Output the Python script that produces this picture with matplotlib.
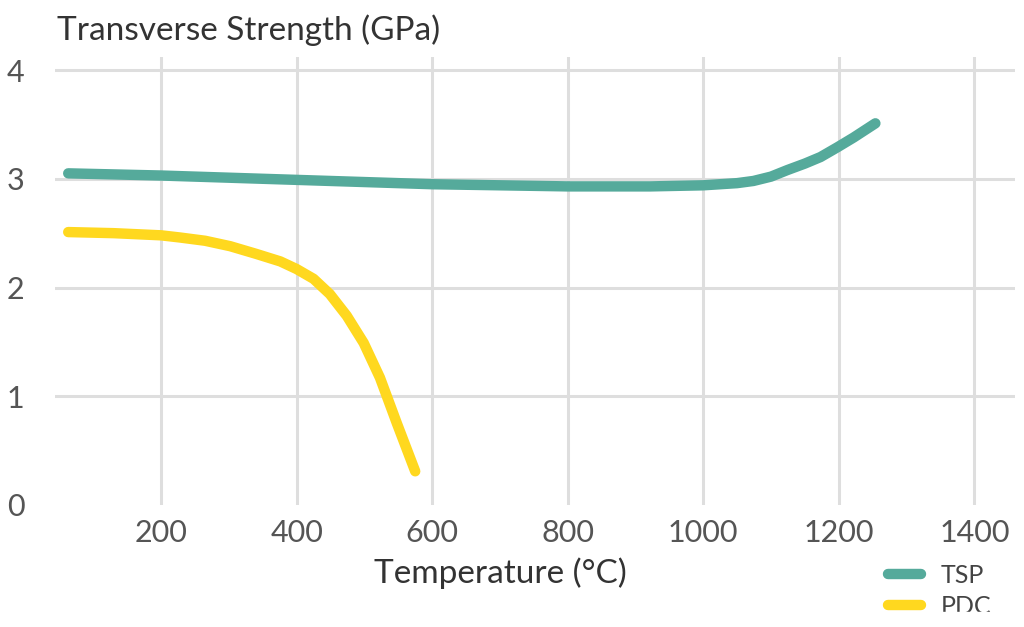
import matplotlib.pyplot as plt
from matplotlib.patches import Rectangle

# values
tsp_temp = [63, 200, 400, 600, 800, 922, 1000, 1025, 1050, 1074, 1100, 1124,
            1150, 1173, 1198, 1222, 1254]
tsp_gpa = [3.05, 3.03, 2.99, 2.95, 2.93, 2.93, 2.94, 2.95, 2.96, 2.98, 3.02, 3.08,
           3.14, 3.20, 3.29, 3.38, 3.51]

pdc_temp = [63, 130, 200, 228, 265, 302, 340, 376, 400, 425, 449, 474, 499,
            523, 548, 575]
pdc_gpa = [2.51, 2.50, 2.48, 2.46, 2.43, 2.38, 2.31, 2.24, 2.17, 2.08, 1.94,
           1.74, 1.49, 1.17, 0.75, 0.31]

x_ticks = [200, 400, 600, 800, 1000, 1200, 1400]
y_ticks = [0, 1, 2, 3, 4]

TEAL = "#55AA9B"
YELLOW = "#FFD81F"
GRID = "#DEDEDE"

plt.rcParams["font.family"] = ["Lato", "DejaVu Sans"]

fig = plt.figure(figsize=(10.24, 6.27), dpi=100)
ax = fig.add_axes([55 / 1024, 1 - 505 / 627, 960 / 1024, 448 / 627])

ax.plot(tsp_temp, tsp_gpa, color=TEAL, lw=7.5, solid_capstyle="round",
        solid_joinstyle="round", label="TSP", zorder=3)
ax.plot(pdc_temp, pdc_gpa, color=YELLOW, lw=7.5, solid_capstyle="round",
        solid_joinstyle="round", label="PDC", zorder=3)

ax.set_xlim(43.5, 1460)
ax.set_ylim(0, 4.12)
ax.set_xticks(x_ticks)
ax.set_yticks(y_ticks)
ax.grid(True, color=GRID, lw=2.2)
ax.set_axisbelow(True)
ax.get_ygridlines()[0].set_visible(False)
for s in ax.spines.values():
    s.set_visible(False)
ax.tick_params(length=0, labelsize=22, labelcolor="#555555")
ax.tick_params(axis="x", pad=10)
ax.tick_params(axis="y", pad=22)

fig.text(57 / 1024, 1 - 30 / 627, "Transverse Strength (GPa)", fontsize=24,
         color="#333333", va="center", ha="left")
fig.text(500 / 1024, 1 - 573 / 627, "Temperature (°C)", fontsize=24,
         color="#333333", va="center", ha="center")

fig.legend(loc="upper left", bbox_to_anchor=(888 / 1024, 1 - 564 / 627),
           frameon=False, fontsize=18, handlelength=1.3, handletextpad=0.8,
           labelspacing=0.3, borderpad=0, borderaxespad=0,
           labelcolor="#444444")

# the reference is cut off along the bottom edge
fig.patches.append(Rectangle((0, 0), 1, 15 / 627, transform=fig.transFigure,
                             color="white", zorder=10))

fig.savefig("out.png", dpi=100)
